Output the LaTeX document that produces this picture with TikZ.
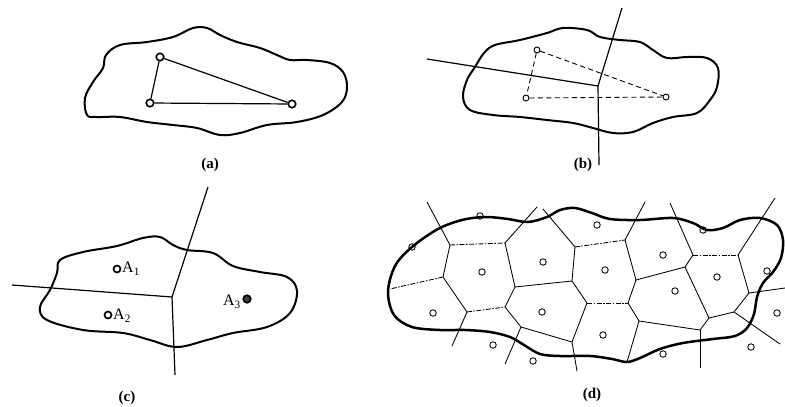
\documentclass[tikz,border=0pt]{standalone}
\usepackage{fontspec}
\setmainfont{Liberation Serif}
\begin{document}
\begin{tikzpicture}[x=1pt,y=-1pt,
  blob/.style={line width=2pt,line join=round},
  blobd/.style={line width=2.5pt,line join=round},
  edge/.style={line width=1.2pt},
  vor/.style={line width=0.85pt},
  vordash/.style={vor,dash pattern=on 5pt off 1.5pt on 1.5pt off 1.5pt},
  dlink/.style={line width=0.9pt,dash pattern=on 5pt off 3.5pt},
  siteA/.style={circle,draw,line width=1.6pt,minimum size=7.5pt,inner sep=0pt},
  siteB/.style={circle,draw,line width=0.9pt,minimum size=6pt,inner sep=0pt},
  siteC/.style={circle,draw,line width=1.7pt,minimum size=7pt,inner sep=0pt},
  siteD/.style={circle,draw,line width=0.85pt,minimum size=6.5pt,inner sep=0pt},
  caption/.style={font=\fontsize{15}{17}\selectfont\bfseries},
  albl/.style={font=\fontsize{16}{18}\selectfont,inner sep=1pt}]
\useasboundingbox (0,0) rectangle (785,407);

% ---------------- (a)
\draw[blob] plot[smooth cycle,tension=0.6] coordinates {
 (87,115) (85,98) (93,82) (103,68) (106,55) (120,45) (147,42) (173,37) (193,28)
 (207,28) (220,35) (237,42) (260,48) (277,55) (290,60) (307,60) (330,63) (343,72)
 (347,87) (342,102) (323,115) (297,122) (267,125) (240,133) (220,135) (197,128)
 (173,125) (147,122) (120,117) (97,117)};
\node[siteA] (a1) at (160,57) {};
\node[siteA] (a2) at (150,103) {};
\node[siteA] (a3) at (292,104) {};
\draw[edge] (a1) -- (a2);
\draw[edge] (a2) -- (a3);
\draw[edge] (a1) -- (a3);
\node[caption] (capa) at (210,165) {(a)};

% ---------------- (b)
\draw[blob] plot[smooth cycle,tension=0.6] coordinates {
 (463,97) (467,80) (475,67) (484,53) (495,45) (520,40) (547,33) (563,28) (587,30)
 (600,37) (620,40) (640,42) (653,50) (667,58) (687,57) (707,58) (718,68) (717,87)
 (710,100) (697,113) (673,117) (653,123) (633,132) (613,133) (593,128) (573,123)
 (547,120) (520,117) (493,115) (470,110)};
\node[siteB] (b1) at (537,50) {};
\node[siteB] (b2) at (526,98) {};
\node[siteB] (b3) at (666,97) {};
\draw[dlink] (b1) -- (b2);
\draw[dlink] (b1) -- (b3);
\draw[dlink] (b2) -- (b3);
\coordinate (bv) at (598,86);
\coordinate (bl) at (427,59);
\coordinate (bt) at (622,8);
\coordinate (bb) at (599,165);
\draw[edge] (bl) -- (bv);
\draw[edge] (bt) -- (bv);
\draw[edge] (bv) -- (bb);
\node[caption] (capb) at (583,165) {(b)};

% ---------------- (c)
\draw[blob] plot[smooth cycle,tension=0.6] coordinates {
 (60,260) (83,252) (117,246) (143,238) (160,237) (173,245) (187,250) (213,253)
 (233,266) (260,272) (287,277) (297,291) (290,313) (267,327) (233,333) (207,340)
 (177,347) (150,340) (123,333) (83,330) (47,320) (40,307) (50,290) (57,273)};
\coordinate (cv) at (172,297);
\coordinate (cl) at (12,285);
\coordinate (ct) at (208,187);
\coordinate (cb) at (175,375);
\draw[edge] (cl) -- (cv);
\draw[edge] (ct) -- (cv);
\draw[edge] (cv) -- (cb);
\node[siteC] (A1) at (117,269) {};
\node[siteC] (A2) at (108,315) {};
\node[circle,draw,line width=1.7pt,minimum size=7.5pt,inner sep=0pt,fill=black!75] (A3) at (247,299) {};
\node[albl,anchor=west] (tA1) at (121,269) {A\textsubscript{1}};
\node[albl,anchor=west] (tA2) at (112,316) {A\textsubscript{2}};
\node[albl,anchor=east] (tA3) at (242,302) {A\textsubscript{3}};
\node[caption] (capc) at (127,398) {(c)};

% ---------------- (d)
\draw[blobd] plot[smooth cycle,tension=0.55] coordinates {
 (388,292) (395,266) (412,247) (438,229) (462,220) (485,217) (508,219) (528,222)
 (547,217) (560,210) (575,208) (592,213) (610,219) (640,220) (673,218) (693,223)
 (707,230) (723,228) (740,220) (760,218) (777,225) (783,240) (781,258) (773,272)
 (763,283) (757,297) (754,314) (747,328) (735,336) (713,339) (683,343) (660,349)
 (640,358) (627,362) (612,359) (590,356) (560,356) (540,354) (524,345) (510,337)
 (490,332) (465,330) (440,330) (412,327) (394,315)};
% Voronoi vertices
\coordinate (V1) at (450,245);
\coordinate (V2) at (505,243);
\coordinate (V3) at (443,277);
\coordinate (V4) at (467,312);
\coordinate (V5) at (505,307);
\coordinate (V6) at (515,287);
\coordinate (V7) at (521,327);
\coordinate (V8) at (572,281);
\coordinate (V9) at (572,342);
\coordinate (V10) at (575,247);
\coordinate (V11) at (587,303);
\coordinate (W1) at (625,240);
\coordinate (W2) at (636,280);
\coordinate (W3) at (628,303);
\coordinate (W4) at (639,321);
\coordinate (W5) at (685,267);
\coordinate (W6) at (693,255);
\coordinate (W7) at (738,255);
\coordinate (W8) at (749,293);
\coordinate (W9) at (734,312);
\coordinate (W10) at (709,318);
\coordinate (W11) at (700,330);
\coordinate (W12) at (627,362);
% free ends
\coordinate (E1) at (427,202);
\coordinate (E2) at (390,289);
\coordinate (E3) at (452,346);
\coordinate (E4) at (537,207);
\coordinate (E5) at (543,209);
\coordinate (E6) at (505,364);
\coordinate (E7) at (577,371);
\coordinate (E8) at (645,202);
\coordinate (E9) at (670,203);
\coordinate (E10) at (775,198);
\coordinate (E11) at (785,288);
\coordinate (E12) at (780,344);
\coordinate (E13) at (700,368);
% solid cell walls
\draw[vor] (E1) -- (V1);
\draw[vor] (V1) -- (V3);
\draw[vor] (V3) -- (V4);
\draw[vor] (V4) -- (E3);
\draw[vor] (E4) -- (V2);
\draw[vor] (V2) -- (V6);
\draw[vor] (V6) -- (V5);
\draw[vor] (V5) -- (V7);
\draw[vor] (V7) -- (E6);
\draw[vor] (V7) -- (V9);
\draw[vor] (V6) -- (V8);
\draw[vor] (E5) -- (V10);
\draw[vor] (V10) -- (V8);
\draw[vor] (V8) -- (V11);
\draw[vor] (V11) -- (V9);
\draw[vor] (V9) -- (E7);
\draw[vor] (E8) -- (W1);
\draw[vor] (W1) -- (W2);
\draw[vor] (W2) -- (W3);
\draw[vor] (W3) -- (W4);
\draw[vor] (W4) -- (W12);
\draw[vor] (W4) -- (W11);
\draw[vor] (W2) -- (W5);
\draw[vor] (W5) -- (W6);
\draw[vor] (E9) -- (W6);
\draw[vor] (W5) -- (W10);
\draw[vor] (W10) -- (W11);
\draw[vor] (W11) -- (E13);
\draw[vor] (W10) -- (W9);
\draw[vor] (W9) -- (W8);
\draw[vor] (W9) -- (E12);
\draw[vor] (W8) -- (E11);
\draw[vor] (W8) -- (W7);
\draw[vor] (W7) -- (E10);
% broken (dash-dot) walls
\draw[vordash] (V1) -- (V2);
\draw[vordash] (V3) -- (E2);
\draw[vordash] (V4) -- (V5);
\draw[vordash] (V10) -- (W1);
\draw[vordash] (V11) -- (W3);
\draw[vordash] (W6) -- (W7);
% sites
\node[siteD] (d1) at (480,216) {};
\node[siteD] (d2) at (412,247) {};
\node[siteD] (d3) at (597,225) {};
\node[siteD] (d4) at (703,230) {};
\node[siteD] (d5) at (767,271) {};
\node[siteD] (d6) at (482,272) {};
\node[siteD] (d7) at (543,262) {};
\node[siteD] (d8) at (433,313) {};
\node[siteD] (d9) at (542,312) {};
\node[siteD] (d10) at (605,270) {};
\node[siteD] (d11) at (663,255) {};
\node[siteD] (d12) at (717,277) {};
\node[siteD] (d13) at (675,291) {};
\node[siteD] (d14) at (603,335) {};
\node[siteD] (d15) at (777,313) {};
\node[siteD] (d16) at (751,347) {};
\node[siteD] (d17) at (663,354) {};
\node[siteD] (d18) at (493,345) {};
\node[siteD] (d19) at (533,361) {};
\node[caption] (capd) at (592,395) {(d)};
\end{tikzpicture}
\end{document}
